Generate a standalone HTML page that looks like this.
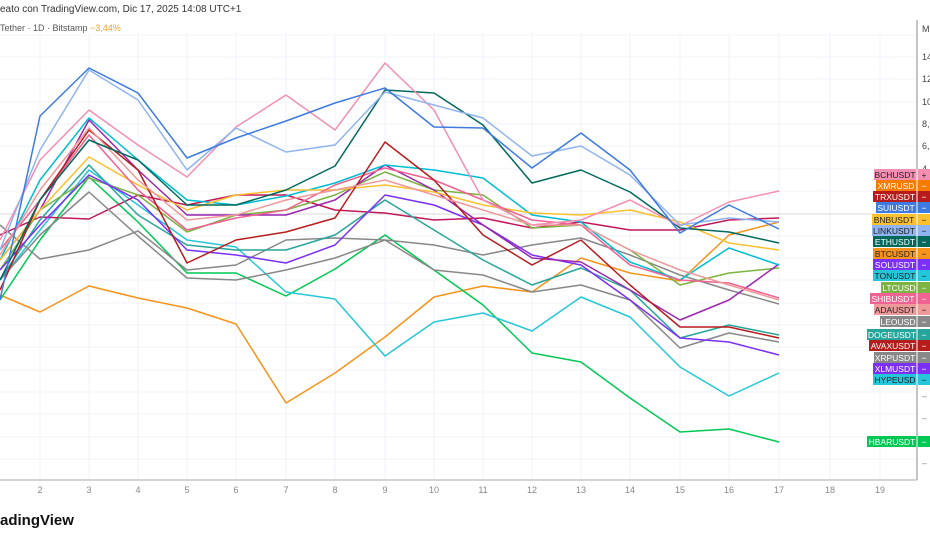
<!DOCTYPE html>
<html><head><meta charset="utf-8"><style>
body{margin:0;width:930px;height:539px;background:#fff;overflow:hidden;font-family:"Liberation Sans",sans-serif}
</style></head><body>
<svg width="930" height="539" xmlns="http://www.w3.org/2000/svg" font-family="Liberation Sans, sans-serif">
<g stroke="#f0f3fa" stroke-width="1">
<line x1="0" y1="35" x2="917" y2="35"/><line x1="0" y1="57" x2="917" y2="57"/><line x1="0" y1="79" x2="917" y2="79"/><line x1="0" y1="102" x2="917" y2="102"/><line x1="0" y1="124" x2="917" y2="124"/><line x1="0" y1="146" x2="917" y2="146"/><line x1="0" y1="169" x2="917" y2="169"/><line x1="0" y1="191" x2="917" y2="191"/><line x1="0" y1="236" x2="917" y2="236"/><line x1="0" y1="258" x2="917" y2="258"/><line x1="0" y1="280" x2="917" y2="280"/><line x1="0" y1="303" x2="917" y2="303"/><line x1="0" y1="325" x2="917" y2="325"/><line x1="0" y1="347" x2="917" y2="347"/><line x1="0" y1="370" x2="917" y2="370"/><line x1="0" y1="392" x2="917" y2="392"/><line x1="0" y1="414" x2="917" y2="414"/><line x1="0" y1="437" x2="917" y2="437"/><line x1="0" y1="459" x2="917" y2="459"/>
<line x1="40" y1="33" x2="40" y2="480"/><line x1="89" y1="33" x2="89" y2="480"/><line x1="138" y1="33" x2="138" y2="480"/><line x1="187" y1="33" x2="187" y2="480"/><line x1="236" y1="33" x2="236" y2="480"/><line x1="286" y1="33" x2="286" y2="480"/><line x1="335" y1="33" x2="335" y2="480"/><line x1="385" y1="33" x2="385" y2="480"/><line x1="434" y1="33" x2="434" y2="480"/><line x1="483" y1="33" x2="483" y2="480"/><line x1="532" y1="33" x2="532" y2="480"/><line x1="581" y1="33" x2="581" y2="480"/><line x1="630" y1="33" x2="630" y2="480"/><line x1="680" y1="33" x2="680" y2="480"/><line x1="729" y1="33" x2="729" y2="480"/><line x1="779" y1="33" x2="779" y2="480"/><line x1="830" y1="33" x2="830" y2="480"/><line x1="880" y1="33" x2="880" y2="480"/>
</g>
<line x1="0" y1="214" x2="917" y2="214" stroke="#d8d8d8"/>
<line x1="917" y1="20" x2="917" y2="480" stroke="#888"/>
<line x1="0" y1="480" x2="917" y2="480" stroke="#aaa"/>
<g fill="none" stroke-width="1.5" stroke-linejoin="round">
<polyline stroke="#f7931a" points="0,295 40,312 89,286 138,298 187,308 236,324 286,403 335,373 385,337 434,297 483,286 532,292 581,258 630,273 680,281 729,235 779,222"/>
<polyline stroke="#00c853" points="0,300 40,240 89,177 138,222 187,273 236,273 286,296 335,269 385,235 434,270 483,305 532,353 581,362 630,398 680,432 729,429 779,442"/>
<polyline stroke="#26c6da" points="0,280 40,230 89,170 138,205 187,240 236,247 286,292 335,299 385,356 434,322 483,313 532,331 581,297 630,317 680,367 729,396 779,373"/>
<polyline stroke="#888" points="0,225 40,259 89,250 138,231 187,270 236,265 286,240 335,238 385,240 434,245 483,255 532,245 581,238 630,255 680,275 729,290 779,304"/>
<polyline stroke="#c2185b" points="0,235 40,217 89,219 138,195 187,205 236,195 286,195 335,210 385,213 434,220 483,218 532,228 581,222 630,230 680,230 729,220 779,218"/>
<polyline stroke="#888" points="0,280 40,235 89,192 138,236 187,278 236,280 286,270 335,258 385,240 434,270 483,275 532,292 581,285 630,300 680,348 729,333 779,342"/>
<polyline stroke="#26a69a" points="0,280 40,220 89,165 138,215 187,245 236,250 286,250 335,235 385,200 434,230 483,260 532,285 581,268 630,290 680,338 729,325 779,335"/>
<polyline stroke="#7cb342" points="0,270 40,210 89,178 138,195 187,232 236,215 286,210 335,195 385,172 434,190 483,195 532,228 581,225 630,250 680,285 729,273 779,268"/>
<polyline stroke="#7b2ff7" points="0,270 40,225 89,175 138,200 187,250 236,255 286,263 335,245 385,195 434,205 483,225 532,255 581,265 630,300 680,338 729,342 779,355"/>
<polyline stroke="#9c27b0" points="0,260 40,210 89,120 138,170 187,215 236,215 286,215 335,200 385,165 434,190 483,225 532,258 581,262 630,290 680,320 729,300 779,264"/>
<polyline stroke="#00bcd4" points="0,260 40,180 89,118 138,160 187,200 236,205 286,196 335,183 385,165 434,170 483,178 532,215 581,222 630,262 680,280 729,248 779,265"/>
<polyline stroke="#fbc02d" points="0,260 40,210 89,157 138,185 187,210 236,195 286,190 335,190 385,185 434,192 483,205 532,213 581,215 630,210 680,222 729,243 779,250"/>
<polyline stroke="#f06292" points="0,250 40,200 89,135 138,190 187,230 236,218 286,210 335,185 385,168 434,180 483,200 532,220 581,225 630,265 680,280 729,283 779,298"/>
<polyline stroke="#b71c1c" points="0,290 40,200 89,130 138,170 187,263 236,240 286,232 335,218 385,142 434,180 483,235 532,265 581,240 630,285 680,327 729,327 779,338"/>
<polyline stroke="#ef9a9a" points="0,255 40,190 89,128 138,180 187,220 236,215 286,200 335,190 385,180 434,195 483,210 532,225 581,225 630,250 680,270 729,285 779,300"/>
<polyline stroke="#00695c" points="0,280 40,200 89,140 138,160 187,205 236,205 286,190 335,166 385,90 434,93 483,125 532,183 581,170 630,192 680,228 729,232 779,243"/>
<polyline stroke="#f48fb1" points="0,240 40,160 89,110 138,145 187,177 236,127 286,95 335,130 385,63 434,110 483,200 532,225 581,220 630,200 680,226 729,202 779,191"/>
<polyline stroke="#90b4f0" points="0,250 40,150 89,70 138,100 187,170 236,128 286,152 335,145 385,92 434,105 483,118 532,156 581,146 630,175 680,225 729,218 779,222"/>
<polyline stroke="#3d7be0" points="0,300 40,116 89,68 138,93 187,158 236,138 286,121 335,103 385,88 434,127 483,128 532,168 581,133 630,170 680,233 729,205 779,229"/>
</g>
<g font-size="9" fill="#888" text-anchor="middle">
<text x="40" y="493">2</text><text x="89" y="493">3</text><text x="138" y="493">4</text><text x="187" y="493">5</text><text x="236" y="493">6</text><text x="286" y="493">7</text><text x="335" y="493">8</text><text x="385" y="493">9</text><text x="434" y="493">10</text><text x="483" y="493">11</text><text x="532" y="493">12</text><text x="581" y="493">13</text><text x="630" y="493">14</text><text x="680" y="493">15</text><text x="729" y="493">16</text><text x="779" y="493">17</text><text x="830" y="493">18</text><text x="880" y="493">19</text>
</g>
<g font-size="9" fill="#444">
<text x="922" y="32">M</text><text x="922" y="60">14</text><text x="922" y="82">12</text><text x="922" y="105">10</text><text x="922" y="127">8,</text><text x="922" y="149">6,</text><text x="922" y="172">4</text>
<text x="922" y="399" fill="#888">–</text><text x="922" y="421" fill="#888">–</text><text x="922" y="466" fill="#888">–</text>
</g>
<text x="0" y="12" font-size="10" fill="#333">eato con TradingView.com, Dic 17, 2025 14:08 UTC+1</text>
<text x="0" y="31" font-size="9" fill="#555">Tether · 1D · Bitstamp <tspan fill="#f0a030">−3,44%</tspan></text>
<text x="0" y="525" font-size="15" font-weight="bold" fill="#111">adingView</text>
<g font-size="8.5" fill="#fff" text-anchor="middle">
<rect x="874" y="169" width="56" height="11" fill="#f48fb1"/><text x="895" y="178" fill="#222">BCHUSDT</text><text x="924" y="178" fill="#222">+</text>
<rect x="876" y="180" width="54" height="11" fill="#f57c00"/><text x="896" y="189">XMRUSD</text><text x="924" y="189">−</text>
<rect x="873" y="191" width="57" height="11" fill="#b71c1c"/><text x="895" y="200">TRXUSDT</text><text x="924" y="200">−</text>
<rect x="876" y="202" width="54" height="11" fill="#3d7be0"/><text x="896" y="211">SUIUSDT</text><text x="924" y="211">−</text>
<rect x="872" y="214" width="58" height="11" fill="#fbc02d"/><text x="894" y="223" fill="#222">BNBUSDT</text><text x="924" y="223" fill="#222">−</text>
<rect x="872" y="225" width="58" height="11" fill="#90b4f0"/><text x="894" y="234" fill="#222">LINKUSDT</text><text x="924" y="234" fill="#222">−</text>
<rect x="873" y="236" width="57" height="11" fill="#00695c"/><text x="895" y="245">ETHUSDT</text><text x="924" y="245">−</text>
<rect x="873" y="248" width="57" height="11" fill="#f7931a"/><text x="895" y="257" fill="#222">BTCUSDT</text><text x="924" y="257" fill="#222">−</text>
<rect x="873" y="259" width="57" height="11" fill="#7b2ff7"/><text x="895" y="268">SOLUSDT</text><text x="924" y="268">−</text>
<rect x="873" y="270" width="57" height="11" fill="#26c6da"/><text x="895" y="279" fill="#222">TONUSDT</text><text x="924" y="279" fill="#222">−</text>
<rect x="881" y="282" width="49" height="11" fill="#7cb342"/><text x="899" y="291">LTCUSD</text><text x="924" y="291">−</text>
<rect x="870" y="293" width="60" height="11" fill="#f06292"/><text x="893" y="302">SHIBUSDT</text><text x="924" y="302">−</text>
<rect x="874" y="304" width="56" height="11" fill="#ef9a9a"/><text x="895" y="313" fill="#222">ADAUSDT</text><text x="924" y="313" fill="#222">−</text>
<rect x="880" y="316" width="50" height="11" fill="#888"/><text x="898" y="325">LEOUSD</text><text x="924" y="325">−</text>
<rect x="867" y="329" width="63" height="11" fill="#26a69a"/><text x="892" y="338">DOGEUSDT</text><text x="924" y="338">−</text>
<rect x="869" y="340" width="61" height="11" fill="#b71c1c"/><text x="893" y="349">AVAXUSDT</text><text x="924" y="349">−</text>
<rect x="874" y="352" width="56" height="11" fill="#888"/><text x="895" y="361">XRPUSDT</text><text x="924" y="361">−</text>
<rect x="873" y="363" width="57" height="11" fill="#7b2ff7"/><text x="895" y="372">XLMUSDT</text><text x="924" y="372">−</text>
<rect x="873" y="374" width="57" height="11" fill="#26c6da"/><text x="895" y="383" fill="#222">HYPEUSD</text><text x="924" y="383" fill="#222">−</text>
<rect x="867" y="436" width="63" height="11" fill="#00c853"/><text x="892" y="445">HBARUSDT</text><text x="924" y="445">−</text>
</g>
<g stroke="#fff"><line x1="917" y1="169" x2="917" y2="385"/><line x1="917" y1="436" x2="917" y2="447"/></g>
</svg>
</body></html>
